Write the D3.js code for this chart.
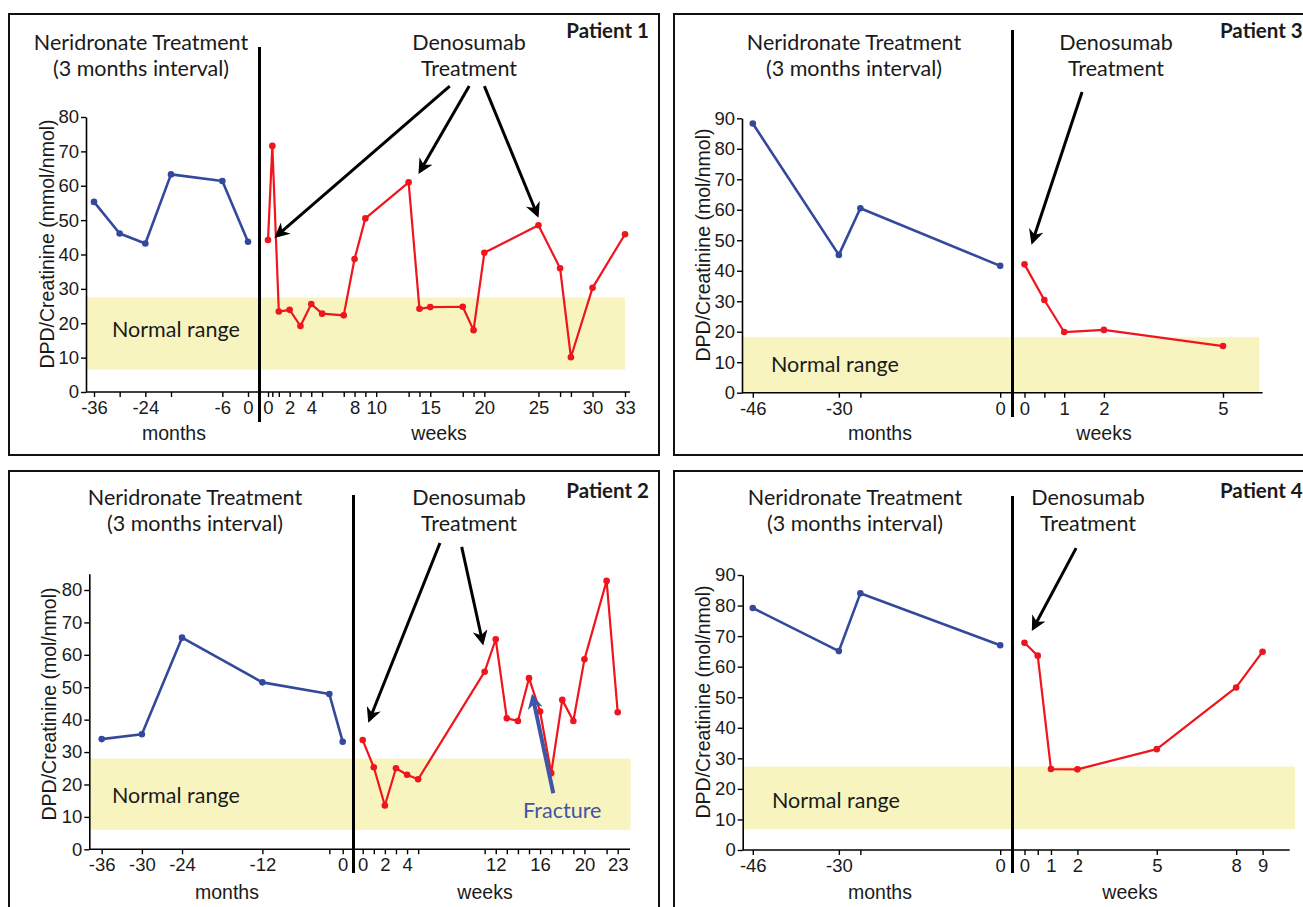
<!DOCTYPE html>
<html>
<head>
<meta charset="utf-8">
<script src="https://cdn.jsdelivr.net/npm/d3@7"></script>
<style>
  body { margin: 0; background: #fff; }
  svg text { fill: #1a1a1a; }
  .tick text { font-family: "Liberation Sans", Arial, sans-serif; font-size: 18.5px; }
  .note { font-family: Lato, "Open Sans", sans-serif; font-size: 21.5px; }
</style>
</head>
<body>
<svg id="chart" width="1303" height="907"></svg>
<script>
// ---- data ----
// Patient 1
const p1Months = [-36, -30, -24, -18, -6, 0];
const p1MonthVals = [55.3, 46.1, 43.2, 63.3, 61.4, 43.7];
const p1Weeks = [0, 0.4, 1, 2, 3, 4, 5, 7, 8, 9, 13, 14, 15, 18, 19, 20, 25, 27, 28, 30, 33];
const p1WeekVals = [44.2, 71.6, 23.4, 23.9, 19.2, 25.6, 22.8, 22.3, 38.7, 50.5, 61.0, 24.2, 24.7, 24.8, 18.0, 40.5, 48.5, 36.0, 10.1, 30.3, 45.9];
const p1MonthLabels = [-36, -24, -6, 0];
const p1WeekLabels = [0, 2, 4, 8, 10, 15, 20, 25, 30, 33];
const p1Normal = [6.5, 27.5];

// Patient 2
const p2Months = [-36, -30, -24, -12, -2, 0];
const p2MonthVals = [34.0, 35.5, 65.3, 51.5, 47.9, 33.2];
const p2Weeks = [0, 1, 2, 3, 4, 5, 11, 12, 13, 14, 15, 16, 17, 18, 19, 20, 22, 23];
const p2WeekVals = [33.7, 25.3, 13.5, 25.0, 23.0, 21.6, 54.8, 64.8, 40.4, 39.6, 52.8, 42.5, 23.5, 46.1, 39.6, 58.6, 82.8, 42.3];
const p2MonthLabels = [-36, -30, -24, -12, 0];
const p2WeekLabels = [0, 2, 4, 12, 16, 20, 23];
const p2Normal = [6, 28];

// Patient 3
const p3Months = [-46, -30, -26, 0];
const p3MonthVals = [88.3, 45.2, 60.5, 41.6];
const p3Weeks = [0, 0.5, 1, 2, 5];
const p3WeekVals = [42.1, 30.4, 19.9, 20.6, 15.3];
const p3MonthLabels = [-46, -30, 0];
const p3WeekLabels = [0, 1, 2, 5];
const p3Normal = [0, 18.2];

// Patient 4
const p4Months = [-46, -30, -26, 0];
const p4MonthVals = [79.2, 65.1, 84.0, 67.0];
const p4Weeks = [0, 0.5, 1, 2, 5, 8, 9];
const p4WeekVals = [67.8, 63.6, 26.5, 26.4, 33.0, 53.2, 64.9];
const p4MonthLabels = [-46, -30, 0];
const p4WeekLabels = [0, 1, 2, 5, 8, 9];
const p4Normal = [6.8, 27.3];

const yTicks = [0, 10, 20, 30, 40, 50, 60, 70, 80, 90];

const BLUE = "#34499c";
const RED = "#f0141c";
const BAND = "#f8f4c0";

const svg = d3.select("#chart");

// arrowheads
const defs = svg.append("defs");
[["head-black", "#000"], ["head-blue", "#3f55a6"]].forEach(([id, c]) => {
  defs.append("marker")
    .attr("id", id)
    .attr("viewBox", "0 0 10 10")
    .attr("refX", 8).attr("refY", 5)
    .attr("markerUnits", "userSpaceOnUse")
    .attr("markerWidth", 17).attr("markerHeight", 15)
    .attr("orient", "auto")
    .append("path")
      .attr("d", "M0,0 L10,5 L0,10 L3,5 Z")
      .attr("fill", c);
});

function drawPanel(p) {
  const g = svg.append("g");

  // frame
  g.append("rect")
    .attr("x", p.frame[0]).attr("y", p.frame[1])
    .attr("width", p.frame[2] - p.frame[0]).attr("height", p.frame[3] - p.frame[1])
    .attr("fill", "none").attr("stroke", "#111").attr("stroke-width", 2);

  const y = d3.scaleLinear().domain([0, p.yMax]).range([p.y0, p.yTop]);
  const xm = d3.scaleLinear().domain(p.monthDomain).range(p.monthRange);
  const xw = d3.scaleLinear().domain(p.weekDomain).range(p.weekRange);

  // normal range band
  g.append("rect")
    .attr("x", p.axisX).attr("width", p.bandEnd - p.axisX)
    .attr("y", y(p.normal[1])).attr("height", y(p.normal[0]) - y(p.normal[1]))
    .attr("fill", BAND);
  g.append("text").attr("class", "note")
    .attr("x", p.normalText[0]).attr("y", p.normalText[1]).attr("dy", "0.35em")
    .text("Normal range");

  // y axis
  g.append("g")
    .attr("transform", `translate(${p.axisX},0)`)
    .call(d3.axisLeft(y).tickValues(yTicks.filter(v => v <= p.yMax)).tickSize(5).tickPadding(2).tickSizeOuter(0))
    .call(a => a.select(".domain").attr("stroke-width", 1.6))
    .call(a => a.selectAll(".tick line").attr("stroke-width", 1.4));

  // x axes (months left, weeks right)
  const xAxis = (scale, ticks, labels) => d3.axisBottom(scale)
    .tickValues(ticks)
    .tickFormat(d => labels.includes(d) ? d : "")
    .tickSize(5).tickPadding(4).tickSizeOuter(0);

  const mTicks = Array.from(new Set(p.months.concat(p.monthLabels))).sort((a, b) => a - b);
  const wTicks = Array.from(new Set(p.weeks.concat(p.weekLabels))).sort((a, b) => a - b);

  g.append("g").attr("transform", `translate(0,${p.y0})`)
    .call(xAxis(xm, mTicks, p.monthLabels))
    .call(a => a.select(".domain").remove())
    .call(a => a.selectAll(".tick line").attr("stroke-width", 1.4));
  g.append("g").attr("transform", `translate(0,${p.y0})`)
    .call(xAxis(xw, wTicks, p.weekLabels))
    .call(a => a.select(".domain").remove())
    .call(a => a.selectAll(".tick line").attr("stroke-width", 1.4));
  g.append("line")
    .attr("x1", p.axisX).attr("x2", p.axisEnd)
    .attr("y1", p.y0).attr("y2", p.y0)
    .attr("stroke", "#000").attr("stroke-width", 1.6);

  // axis titles
  g.append("text")
    .attr("transform", `translate(${p.yTitle[0]},${p.yTitle[1]}) rotate(-90)`)
    .attr("text-anchor", "middle").attr("dy", "0.35em")
    .style("font-family", "'Liberation Sans', Arial, sans-serif").style("font-size", "19.5px")
    .text(p.yLabel);
  [["months", p.monthsTitle], ["weeks", p.weeksTitle]].forEach(([t, pos]) => {
    g.append("text")
      .attr("x", pos[0]).attr("y", pos[1]).attr("dy", "0.35em")
      .attr("text-anchor", "middle")
      .style("font-family", "'Liberation Sans', Arial, sans-serif").style("font-size", "19.5px")
      .text(t);
  });

  // treatment separator
  g.append("line")
    .attr("x1", p.vline[0]).attr("x2", p.vline[0])
    .attr("y1", p.vline[1]).attr("y2", p.vline[2])
    .attr("stroke", "#000").attr("stroke-width", 3);

  // series
  const series = [
    { x: xm, xs: p.months, vs: p.monthVals, color: BLUE, w: 2.6 },
    { x: xw, xs: p.weeks, vs: p.weekVals, color: RED, w: 2.2 }
  ];
  series.forEach(s => {
    const pts = s.xs.map((d, i) => [d, s.vs[i]]);
    g.append("path")
      .datum(pts)
      .attr("fill", "none")
      .attr("stroke", s.color)
      .attr("stroke-width", s.w)
      .attr("stroke-linejoin", "round")
      .attr("d", d3.line().x(d => s.x(d[0])).y(d => y(d[1])));
    g.selectAll(null)
      .data(pts)
      .join("circle")
      .attr("cx", d => s.x(d[0])).attr("cy", d => y(d[1]))
      .attr("r", 3.3)
      .attr("fill", s.color);
  });

  // header texts
  const note = (x, yy, t, anchor) => g.append("text").attr("class", "note")
    .attr("x", x).attr("y", yy).attr("dy", "0.35em")
    .attr("text-anchor", anchor || "middle").text(t);
  note(p.neriX, p.headY[0], "Neridronate Treatment");
  note(p.neriX, p.headY[1], "(3 months interval)");
  note(p.denoX, p.headY[0], "Denosumab");
  note(p.denoX, p.headY[1], "Treatment");
  g.append("text").attr("class", "note")
    .attr("x", p.patient[0]).attr("y", p.patient[1]).attr("dy", "0.35em")
    .attr("text-anchor", p.patient[2])
    .style("font-weight", "bold").style("font-size", "20.5px")
    .text(p.name);

  // arrows (positions in week/value coordinates)
  p.arrows.forEach(a => {
    g.append("line")
      .attr("x1", xw(a.from[0])).attr("y1", y(a.from[1]))
      .attr("x2", xw(a.to[0])).attr("y2", y(a.to[1]))
      .attr("stroke", a.color || "#000")
      .attr("stroke-width", a.width || 3)
      .attr("marker-end", `url(#${a.head || "head-black"})`);
  });

  if (p.fractureText) {
    g.append("text").attr("class", "note")
      .attr("x", xw(p.fractureText[0])).attr("y", y(p.fractureText[1]))
      .attr("dy", "0.35em").attr("text-anchor", "middle")
      .style("fill", "#3f55a6")
      .text("Fracture");
  }
}

drawPanel({
  name: "Patient 1",
  frame: [9, 14, 659, 455],
  yMax: 80, y0: 392, yTop: 117, axisX: 86,
  monthDomain: [-36, 0], monthRange: [94, 248],
  weekDomain: [0, 33], weekRange: [268, 625],
  axisEnd: 630, bandEnd: 625,
  months: p1Months, monthVals: p1MonthVals, weeks: p1Weeks, weekVals: p1WeekVals,
  monthLabels: p1MonthLabels, weekLabels: p1WeekLabels, normal: p1Normal,
  normalText: [112, 329],
  yLabel: "DPD/Creatinine (mmol/nmol)", yTitle: [47, 244],
  monthsTitle: [174, 433], weeksTitle: [439, 433],
  vline: [259.5, 47, 422],
  neriX: 141, denoX: 469, headY: [42, 68],
  patient: [649, 31, "end"],
  arrows: [
    { from: [16.8, 89], to: [0.8, 45.4] },
    { from: [18.6, 89], to: [14.05, 64.2] },
    { from: [20.0, 89], to: [24.9, 51.5] }
  ]
});

drawPanel({
  name: "Patient 2",
  frame: [9, 471, 659, 920],
  yMax: 85, y0: 849.3, yTop: 849.3 - 85 * 3.2413, axisX: 89.3,
  monthDomain: [-36, 0], monthRange: [101.7, 342.7],
  weekDomain: [0, 23], weekRange: [362.7, 617.7],
  axisEnd: 630, bandEnd: 630.7,
  months: p2Months, monthVals: p2MonthVals, weeks: p2Weeks, weekVals: p2WeekVals,
  monthLabels: p2MonthLabels, weekLabels: p2WeekLabels, normal: p2Normal,
  normalText: [112, 795],
  yLabel: "DPD/Creatinine (mol/nmol)", yTitle: [49.5, 704],
  monthsTitle: [227, 892], weeksTitle: [485, 892],
  vline: [353.5, 495, 873],
  neriX: 195, denoX: 469, headY: [497, 523],
  patient: [649, 491, "end"],
  arrows: [
    { from: [6.97, 94.5], to: [0.6, 39.9] },
    { from: [8.93, 93.3], to: [10.82, 63.8] },
    { from: [17.19, 17.3], to: [15.33, 47.1], color: "#3f55a6", width: 4, head: "head-blue" }
  ],
  fractureText: [18.0, 12.0]
});

drawPanel({
  name: "Patient 3",
  frame: [674, 14, 1330, 455],
  yMax: 90, y0: 392.7, yTop: 118.3, axisX: 742,
  monthDomain: [-46, 0], monthRange: [752.8, 1000.2],
  weekDomain: [0, 5], weekRange: [1024.5, 1223],
  axisEnd: 1262.6, bandEnd: 1259.4,
  months: p3Months, monthVals: p3MonthVals, weeks: p3Weeks, weekVals: p3WeekVals,
  monthLabels: p3MonthLabels, weekLabels: p3WeekLabels, normal: p3Normal,
  normalText: [771, 364],
  yLabel: "DPD/Creatinine (mol/nmol)", yTitle: [703.5, 245],
  monthsTitle: [880, 433], weeksTitle: [1104, 433],
  vline: [1012.5, 30, 417],
  neriX: 854, denoX: 1116, headY: [42, 68],
  patient: [1220, 31, "start"],
  arrows: [
    { from: [1.45, 98.6], to: [0.2, 49.5] }
  ]
});

drawPanel({
  name: "Patient 4",
  frame: [674, 471, 1330, 920],
  yMax: 90, y0: 850, yTop: 575, axisX: 742.7,
  monthDomain: [-46, 0], monthRange: [752.8, 1000.2],
  weekDomain: [0, 9], weekRange: [1024.5, 1262.6],
  axisEnd: 1289.7, bandEnd: 1295,
  months: p4Months, monthVals: p4MonthVals, weeks: p4Weeks, weekVals: p4WeekVals,
  monthLabels: p4MonthLabels, weekLabels: p4WeekLabels, normal: p4Normal,
  normalText: [772, 800],
  yLabel: "DPD/Creatinine (mol/nmol)", yTitle: [703.5, 702],
  monthsTitle: [880, 892], weeksTitle: [1130, 892],
  vline: [1012.5, 496, 873],
  neriX: 855, denoX: 1088, headY: [497, 523],
  patient: [1220, 491, "start"],
  arrows: [
    { from: [1.95, 98.8], to: [0.33, 72.5] }
  ]
});
</script>
</body>
</html>
